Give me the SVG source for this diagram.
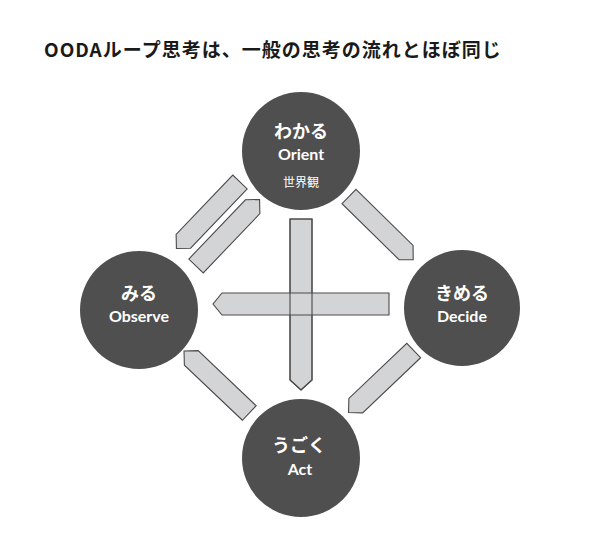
<svg xmlns="http://www.w3.org/2000/svg" width="600" height="538" viewBox="0 0 600 538">
<style>
.title{font-family:"Noto Sans CJK JP","Noto Sans",sans-serif;font-size:19px;font-weight:700;fill:#1a1a1a;letter-spacing:1px}
.node{fill:#4f4f50}
.jp{font-family:"Noto Sans CJK JP",sans-serif;font-size:18px;font-weight:700;fill:#ffffff;text-anchor:middle}
.en{font-family:Lato,"Open Sans",sans-serif;font-size:16px;font-weight:700;fill:#ffffff;text-anchor:middle}
.sm{font-family:"Noto Sans CJK JP",sans-serif;font-size:12px;font-weight:400;fill:#ffffff;text-anchor:middle}
.arr{fill:#d3d4d6;stroke:#4a4a4a;stroke-width:1.1;stroke-linejoin:miter}
.ol{fill:none;stroke:#4a4a4a;stroke-width:1.1}
</style>
<defs>
<path id="a92" d="M0,-10 H82 L92,0 L82,10 H0 Z"/>
<path id="a90" d="M0,-10 H80 L90,0 L80,10 H0 Z"/>
</defs>
<rect width="600" height="538" fill="#ffffff"/>
<text class="title" x="44" y="57">OODAループ思考は、一般の思考の流れとほぼ同じ</text>
<g id="connectors">
<use href="#a92" class="arr" transform="translate(240,182) rotate(133.7)"/>
<use href="#a92" class="arr" transform="translate(196,266) rotate(-46.3)"/>
<use href="#a90" class="arr" transform="translate(349,196.5) rotate(44.5)"/>
<use href="#a90" class="arr" transform="translate(249.3,413) rotate(-136.5)"/>
<use href="#a90" class="arr" transform="translate(413.7,350.5) rotate(136.4)"/>
<path class="arr" d="M290,219 H312 V380 L301,390 L290,380 Z"/>
<path class="arr" d="M389,293 V315 H222 L213,304 L222,293 Z"/>
<path class="ol" d="M290,219 H312 V380 L301,390 L290,380 Z"/>
</g>
<g id="orient">
<circle class="node" cx="301" cy="151" r="59"/>
<text class="jp" x="301" y="138">わかる</text>
<text class="en" x="301" y="160">Orient</text>
<text class="sm" x="301" y="187">世界観</text>
</g>
<g id="observe">
<circle class="node" cx="139" cy="310" r="59"/>
<text class="jp" x="139" y="300">みる</text>
<text class="en" x="139" y="322">Observe</text>
</g>
<g id="decide">
<circle class="node" cx="462" cy="308" r="58"/>
<text class="jp" x="462" y="300">きめる</text>
<text class="en" x="462" y="322">Decide</text>
</g>
<g id="act">
<circle class="node" cx="301" cy="458" r="59"/>
<text class="jp" x="299" y="452">うごく</text>
<text class="en" x="300" y="475">Act</text>
</g>
</svg>
